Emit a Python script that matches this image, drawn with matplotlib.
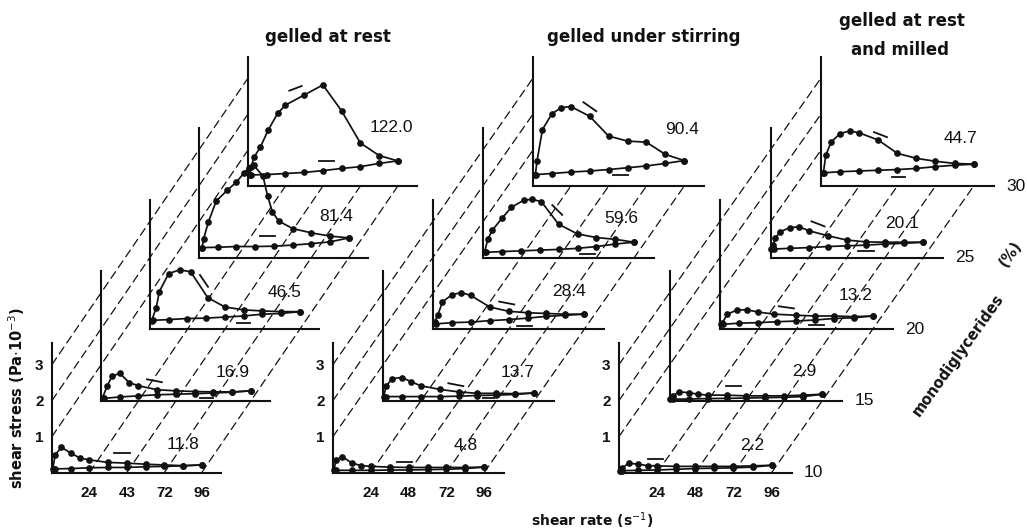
import matplotlib
matplotlib.use("Agg")
import matplotlib.pyplot as plt
from matplotlib.patches import ConnectionPatch

plt.rcParams['lines.scale_dashes'] = False

# ---------------- data ----------------
levels = [10, 15, 20, 25, 30]          # monodiglycerides (%)
panel_titles = ["gelled at rest", "gelled under stirring", "gelled at rest\nand milled"]
x_tick_vals = [24, 48, 72, 96]
x_tick_labels_rest = ["24", "43", "72", "96"]
x_tick_labels = ["24", "48", "72", "96"]
y_tick_vals = [1, 2, 3]
y_tick_labels = ["1", "2", "3"]

shear_down = [96, 84, 72, 60, 48, 36, 24, 12, 2]

# gelled at rest
rest10_up_x = [0.5, 2, 6, 12, 18, 24, 36, 48, 60, 72, 84, 96]
rest10_up_y = [0.10, 0.49, 0.70, 0.54, 0.40, 0.35, 0.28, 0.26, 0.23, 0.21, 0.19, 0.21]
rest10_dn_y = [0.21, 0.185, 0.17, 0.16, 0.14, 0.14, 0.13, 0.11, 0.10]
rest15_up_x = [1, 4, 7, 12, 18, 24, 36, 48, 60, 72, 84, 96]
rest15_up_y = [0.09, 0.42, 0.68, 0.77, 0.51, 0.42, 0.31, 0.28, 0.26, 0.25, 0.25, 0.28]
rest15_dn_y = [0.28, 0.24, 0.22, 0.20, 0.185, 0.17, 0.14, 0.11, 0.07]
rest20_up_x = [1, 4, 6, 12, 19, 26, 37, 48, 60, 72, 84, 96]
rest20_up_y = [0.23, 0.60, 1.05, 1.55, 1.65, 1.60, 0.88, 0.62, 0.54, 0.51, 0.49, 0.49]
rest20_dn_y = [0.49, 0.44, 0.42, 0.37, 0.34, 0.31, 0.30, 0.27, 0.25]
rest25_up_x = [2, 3, 6, 11, 18, 24, 29, 32, 35, 41, 44, 47, 51, 60, 72, 84, 96]
rest25_up_y = [0.28, 0.53, 0.99, 1.57, 1.87, 2.10, 2.36, 2.50, 2.57, 2.27, 1.71, 1.28, 1.02, 0.81, 0.69, 0.60, 0.55]
rest25_dn_y = [0.55, 0.44, 0.39, 0.35, 0.32, 0.31, 0.31, 0.29, 0.28]
rest30_up_x = [1, 2, 4, 8, 13, 19, 24, 36, 48, 60, 72, 84, 96]
rest30_up_y = [0.31, 0.54, 0.81, 1.09, 1.56, 2.02, 2.25, 2.53, 2.81, 2.09, 1.20, 0.85, 0.70]
rest30_dn_y = [0.70, 0.63, 0.54, 0.49, 0.43, 0.38, 0.35, 0.32, 0.31]
rest_areas = ["11.8", "16.9", "46.5", "81.4", "122.0"]

# gelled under stirring
stir10_up_x = [0.5, 2, 6, 12, 18, 24, 36, 48, 60, 72, 84, 96]
stir10_up_y = [0.06, 0.35, 0.44, 0.26, 0.19, 0.17, 0.15, 0.14, 0.14, 0.14, 0.14, 0.15]
stir10_dn_y = [0.15, 0.11, 0.09, 0.08, 0.07, 0.07, 0.06, 0.06, 0.06]
stir15_up_x = [0.5, 2, 6, 12, 18, 24, 36, 48, 60, 72, 84, 96]
stir15_up_y = [0.12, 0.42, 0.62, 0.65, 0.53, 0.42, 0.32, 0.25, 0.21, 0.21, 0.20, 0.22]
stir15_dn_y = [0.22, 0.18, 0.16, 0.15, 0.13, 0.12, 0.12, 0.12, 0.12]
stir20_up_x = [1, 3, 6, 12, 18, 24, 36, 48, 60, 72, 84, 96]
stir20_up_y = [0.20, 0.39, 0.76, 0.96, 1.02, 0.94, 0.62, 0.50, 0.46, 0.44, 0.42, 0.42]
stir20_dn_y = [0.42, 0.39, 0.36, 0.31, 0.27, 0.24, 0.20, 0.185, 0.15]
stir25_up_x = [1, 3, 6, 12, 18, 26, 31, 37, 48, 60, 72, 84, 96]
stir25_up_y = [0.15, 0.51, 0.77, 1.09, 1.40, 1.60, 1.62, 1.56, 0.93, 0.66, 0.56, 0.51, 0.43]
stir25_dn_y = [0.43, 0.38, 0.31, 0.26, 0.23, 0.21, 0.19, 0.17, 0.15]
stir30_up_x = [1.5, 2.6, 6, 12, 18, 24, 36, 48, 60, 72, 84, 96]
stir30_up_y = [0.32, 0.71, 1.57, 2.01, 2.18, 2.21, 1.94, 1.39, 1.25, 1.22, 0.88, 0.71]
stir30_dn_y = [0.71, 0.63, 0.56, 0.51, 0.46, 0.42, 0.39, 0.35, 0.32]
stir_areas = ["4.8", "13.7", "28.4", "59.6", "90.4"]

# gelled at rest and milled
mill10_up_x = [0.5, 2, 6, 12, 18, 24, 36, 48, 60, 72, 84, 96]
mill10_up_y = [0.05, 0.12, 0.26, 0.23, 0.19, 0.185, 0.17, 0.17, 0.17, 0.17, 0.185, 0.20]
mill10_dn_y = [0.20, 0.15, 0.13, 0.12, 0.11, 0.09, 0.07, 0.06, 0.05]
mill15_up_x = [0.5, 2, 6, 12, 18, 24, 36, 48, 60, 72, 84, 96]
mill15_up_y = [0.05, 0.14, 0.25, 0.23, 0.185, 0.16, 0.16, 0.14, 0.14, 0.14, 0.16, 0.185]
mill15_dn_y = [0.185, 0.12, 0.10, 0.09, 0.08, 0.07, 0.065, 0.05, 0.05]
mill20_up_x = [0.5, 1.5, 4.5, 11, 17, 24, 34, 48, 60, 72, 84, 96]
mill20_up_y = [0.14, 0.17, 0.42, 0.54, 0.54, 0.48, 0.42, 0.39, 0.37, 0.37, 0.35, 0.37]
mill20_dn_y = [0.37, 0.32, 0.30, 0.26, 0.23, 0.21, 0.185, 0.17, 0.14]
mill25_up_x = [0.5, 1.5, 3, 6, 12, 18, 24, 36, 48, 60, 72, 84, 96]
mill25_up_y = [0.24, 0.35, 0.54, 0.72, 0.83, 0.86, 0.75, 0.61, 0.49, 0.44, 0.43, 0.43, 0.43]
mill25_dn_y = [0.43, 0.40, 0.38, 0.35, 0.33, 0.31, 0.28, 0.26, 0.24]
mill30_up_x = [1.5, 3, 6.5, 12, 18, 24, 36, 48, 60, 72, 84, 96]
mill30_up_y = [0.37, 0.86, 1.23, 1.46, 1.53, 1.48, 1.28, 0.91, 0.77, 0.69, 0.63, 0.61]
mill30_dn_y = [0.61, 0.58, 0.54, 0.49, 0.46, 0.44, 0.42, 0.40, 0.37]
mill_areas = ["2.2", "2.9", "13.2", "20.1", "44.7"]

panels = [
    dict(up_x=[rest10_up_x, rest15_up_x, rest20_up_x, rest25_up_x, rest30_up_x],
         up_y=[rest10_up_y, rest15_up_y, rest20_up_y, rest25_up_y, rest30_up_y],
         dn_y=[rest10_dn_y, rest15_dn_y, rest20_dn_y, rest25_dn_y, rest30_dn_y],
         areas=rest_areas, xlabels=x_tick_labels_rest),
    dict(up_x=[stir10_up_x, stir15_up_x, stir20_up_x, stir25_up_x, stir30_up_x],
         up_y=[stir10_up_y, stir15_up_y, stir20_up_y, stir25_up_y, stir30_up_y],
         dn_y=[stir10_dn_y, stir15_dn_y, stir20_dn_y, stir25_dn_y, stir30_dn_y],
         areas=stir_areas, xlabels=x_tick_labels),
    dict(up_x=[mill10_up_x, mill15_up_x, mill20_up_x, mill25_up_x, mill30_up_x],
         up_y=[mill10_up_y, mill15_up_y, mill20_up_y, mill25_up_y, mill30_up_y],
         dn_y=[mill10_dn_y, mill15_dn_y, mill20_dn_y, mill25_dn_y, mill30_dn_y],
         areas=mill_areas, xlabels=x_tick_labels),
]

# ---------------- layout ----------------
FW, FH = 1027, 532
XMAX, YMAX = 108.5, 3.6
SY = 36.0                       # px per stress unit
panel_x0 = [52, 333, 619]       # front-level origin x (px)
panel_sx = [1.56, 1.575, 1.59]  # px per shear unit
panel_dx = [49, 50, 50.5]       # depth shift per level (px)
Y0, DY = 472.5, 71.6
# area-label anchor (shear, stress) per level
area_pos = [[(84, 0.78), (84.5, 0.8), (86, 1.03), (88, 1.14), (92, 1.64)],
            [(84.5, 0.75), (85.5, 0.8), (86.5, 1.05), (88, 1.1), (94.5, 1.58)],
            [(84, 0.75), (85, 0.83), (85.5, 0.94), (83, 0.94), (88, 1.33)]]
# short direction strokes drawn beside each loop (shear0, stress0, shear1, stress1)
strokes = [
    [[(40, 0.55, 50, 0.55)],
     [(29.5, 0.60, 39, 0.52), (63.5, 0.08, 71.8, 0.08)],
     [(32, 1.51, 37.2, 1.18), (56, 0.17, 64, 0.17)],
     [(39, 0.60, 48.7, 0.60)],
     [(26.5, 2.65, 34.4, 2.78), (45.5, 0.70, 55.1, 0.70)]],
    [[(40.4, 0.30, 50, 0.30)],
     [(41.5, 0.49, 51, 0.41), (63.7, 0.075, 70.6, 0.075)],
     [(42, 0.77, 51.6, 0.69), (53.5, 0.10, 63, 0.10)],
     [(44, 1.46, 50.3, 1.19), (61.8, 0.10, 71.3, 0.10)],
     [(32, 2.33, 40.2, 2.08), (51, 0.31, 60.5, 0.31)]],
    [[(18.2, 0.38, 27.7, 0.38)],
     [(35.8, 0.41, 44.7, 0.41)],
     [(37, 0.64, 46.5, 0.58), (56, 0.11, 65.4, 0.11)],
     [(25.8, 1.01, 34, 0.87), (55.3, 0.175, 64.8, 0.175)],
     [(33.3, 1.5, 41.5, 1.36), (44.6, 0.25, 52.8, 0.25)]],
]

fig = plt.figure(figsize=(FW / 100, FH / 100), dpi=100)

INK = "#111111"
num_font = dict(family="Liberation Sans", color=INK)
lab_font = dict(family="DejaVu Sans", weight="bold", color=INK)
DASH = (0, (5.8, 3.6))
LW = 1.25

for p, pan in enumerate(panels):
    sx = panel_sx[p]
    axes = []
    for i, lev in enumerate(levels):
        ox = panel_x0[p] + i * panel_dx[p]
        oy = Y0 - i * DY
        w, h = XMAX * sx, YMAX * SY
        ax = fig.add_axes([ox / FW, 1 - oy / FH, w / FW, h / FH])
        ax.set_xlim(0, XMAX)
        ax.set_ylim(0, YMAX)
        ax.patch.set_visible(False)
        ax.spines[["top", "right"]].set_visible(False)
        for s in ("left", "bottom"):
            ax.spines[s].set_linewidth(1.5)
            ax.spines[s].set_color(INK)
        if i == 0:
            ax.set_xticks(x_tick_vals)
            ax.set_xticklabels(pan["xlabels"])
            ax.set_yticks(y_tick_vals)
            ax.set_yticklabels(y_tick_labels)
            ax.tick_params(axis="x", length=0, pad=10)
            ax.tick_params(axis="y", length=0, pad=6)
            for t in ax.get_xticklabels() + ax.get_yticklabels():
                t.set_fontfamily("Liberation Sans")
                t.set_fontweight("bold")
                t.set_fontsize(11)
                t.set_color(INK)
        else:
            ax.set_xticks([])
            ax.set_yticks([])
        # hysteresis loop: up branch and down branch
        ax.plot(pan["up_x"][i], pan["up_y"][i], color=INK, lw=LW, marker="o",
                ms=3.8, clip_on=False)
        ax.plot(shear_down, pan["dn_y"][i], color=INK, lw=LW, marker="o",
                ms=3.8, clip_on=False)
        for (x0, y0, x1, y1) in strokes[p][i]:
            ax.plot([x0, x1], [y0, y1], color=INK, lw=1.3, clip_on=False)
        ax.text(area_pos[p][i][0], area_pos[p][i][1], pan["areas"][i],
                fontsize=12.5, ha="center", va="center", **num_font)
        if p == 2:
            ax.text(XMAX + 14, 0, str(lev), fontsize=12.5, ha="center",
                    va="center", **num_font)
        axes.append(ax)
    # dashed depth lines: wall (stress ticks) and floor (shear ticks)
    front, back = axes[0], axes[-1]
    for s in y_tick_vals:
        fig.add_artist(ConnectionPatch((0, s), (0, s), coordsA=front.transData,
                                       coordsB=back.transData, color=INK, lw=0.9,
                                       linestyle=DASH))
    for xv in x_tick_vals:
        fig.add_artist(ConnectionPatch((xv, 0), (xv, 0), coordsA=front.transData,
                                       coordsB=back.transData, color=INK, lw=0.9,
                                       linestyle=DASH))

# titles
fig.text(328 / FW, 1 - 41.5 / FH, panel_titles[0], fontsize=12, ha="center",
         va="baseline", **lab_font)
fig.text(644 / FW, 1 - 41.5 / FH, panel_titles[1], fontsize=12, ha="center",
         va="baseline", **lab_font)
t1, t2 = panel_titles[2].split("\n")
fig.text(902 / FW, 1 - 26.5 / FH, t1, fontsize=12, ha="center", va="baseline", **lab_font)
fig.text(900 / FW, 1 - 55 / FH, t2, fontsize=12, ha="center", va="baseline", **lab_font)

# axis labels
fig.text(17 / FW, 1 - 398 / FH, r"shear stress (Pa$\cdot$10$^{-3}$)", rotation=90,
         fontsize=10.5, ha="center", va="center", **lab_font)
fig.text(592 / FW, 1 - 521 / FH, r"shear rate (s$^{-1}$)", fontsize=10,
         ha="center", va="center", **lab_font)
fig.text(958 / FW, 1 - 355 / FH, "monodiglycerides", rotation=54.5, fontsize=10.5,
         ha="center", va="center", rotation_mode="anchor", **lab_font)
fig.text(1011 / FW, 1 - 254 / FH, "(%)", rotation=54.5, fontsize=10.5,
         ha="center", va="center", rotation_mode="anchor", **lab_font)

fig.savefig("out.png", dpi=100)
